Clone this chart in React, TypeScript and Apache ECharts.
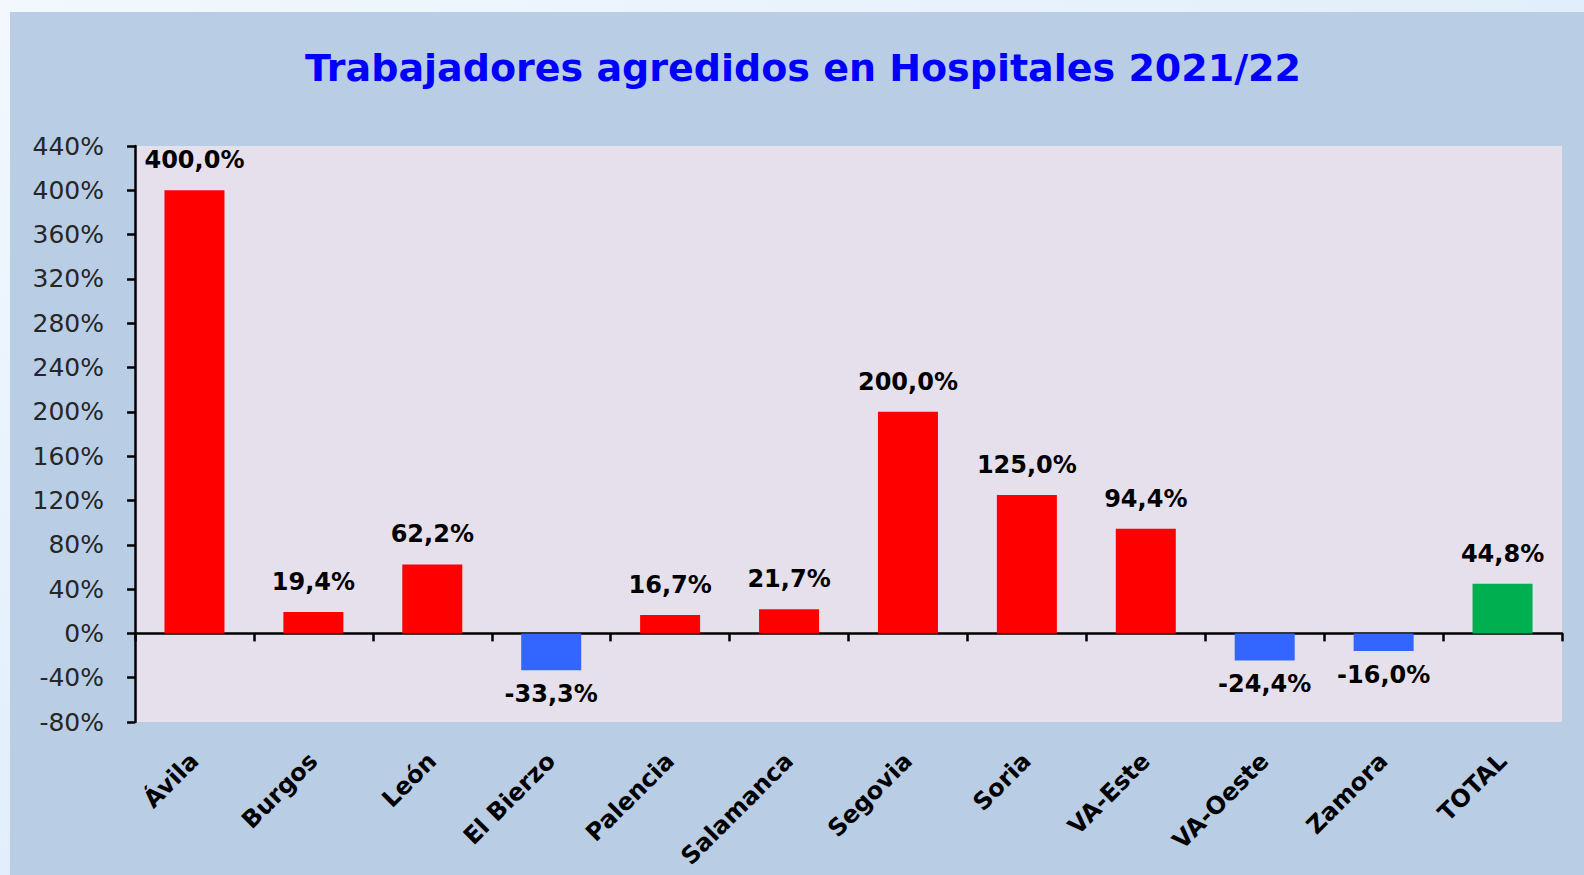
import React, { useEffect, useRef } from "react";
import * as echarts from "echarts";

const categories = ["Ávila", "Burgos", "León", "El Bierzo", "Palencia", "Salamanca", "Segovia", "Soria", "VA-Este", "VA-Oeste", "Zamora", "TOTAL"];
const values = [400.0, 19.4, 62.2, -33.3, 16.7, 21.7, 200.0, 125.0, 94.4, -24.4, -16.0, 44.8];
const barColors = ["#FF0000", "#FF0000", "#FF0000", "#3366FF", "#FF0000", "#FF0000", "#FF0000", "#FF0000", "#FF0000", "#3366FF", "#3366FF", "#00B050"];
const titleText = "Trabajadores agredidos en Hospitales 2021/22";
const yMin = -80;
const yMax = 440;
const yStep = 40;

export default function App() {
  const ref = useRef<HTMLDivElement>(null);
  useEffect(() => {
    document.body.style.margin = "0";
    if (!ref.current) return;
    const chart = echarts.init(ref.current, null, { renderer: "svg" });
    const font = "DejaVu Sans";
    chart.setOption({
      animation: false,
      graphic: [
        {
          type: "rect",
          z: -10,
          shape: { x: 0, y: 0, width: 1584, height: 875 },
          style: {
            fill: new echarts.graphic.LinearGradient(0, 0, 1, 1, [
              { offset: 0, color: "#F2F8FE" },
              { offset: 1, color: "#CFE5F8" },
            ]),
          },
        },
        {
          type: "rect",
          z: -9,
          shape: { x: 10, y: 12, width: 1574, height: 863 },
          style: { fill: "#B9CDE5" },
        },
        {
          type: "text",
          x: 803,
          y: 68,
          style: {
            text: titleText,
            align: "center",
            verticalAlign: "middle",
            fill: "#0000FF",
            font: `bold 38px "${font}"`,
          },
        },
      ],
      grid: {
        left: 135,
        right: 22,
        top: 146,
        bottom: 153,
        show: true,
        backgroundColor: "#E6E0EC",
        borderWidth: 0,
        containLabel: false,
        outerBoundsMode: "none",
      },
      xAxis: {
        type: "category",
        data: categories,
        axisLine: { onZero: true, lineStyle: { color: "#000", width: 2.5 } },
        axisTick: { show: true, length: 8, lineStyle: { color: "#000", width: 2.5 } },
        axisLabel: {
          rotate: 45,
          margin: 35,
          interval: 0,
          fontFamily: font,
          fontWeight: "bold",
          fontSize: 24,
          color: "#000",
        },
        splitLine: { show: false },
      },
      yAxis: {
        type: "value",
        min: yMin,
        max: yMax,
        interval: yStep,
        axisLine: { show: true, lineStyle: { color: "#000", width: 2.5 } },
        axisTick: { show: true, length: 8, lineStyle: { color: "#000", width: 2.5 } },
        axisLabel: {
          margin: 31,
          fontFamily: font,
          fontSize: 25,
          color: "#262626",
          formatter: (v: number) => `${v}%`,
        },
        splitLine: { show: false },
      },
      series: [
        {
          type: "bar",
          barWidth: 60,
          data: values.map((v, i) => ({
            value: v,
            itemStyle: { color: barColors[i] },
            label: { position: v >= 0 ? "top" : "bottom", distance: v >= 0 ? 18 : 12 },
          })),
          label: {
            show: true,
            fontFamily: font,
            fontWeight: "bold",
            fontSize: 24,
            color: "#000",
            formatter: (p: any) => `${p.value.toFixed(1).replace(".", ",")}%`,
          },
        },
      ],
    });
    return () => chart.dispose();
  }, []);
  return <div ref={ref} style={{ width: 1584, height: 875 }} />;
}
